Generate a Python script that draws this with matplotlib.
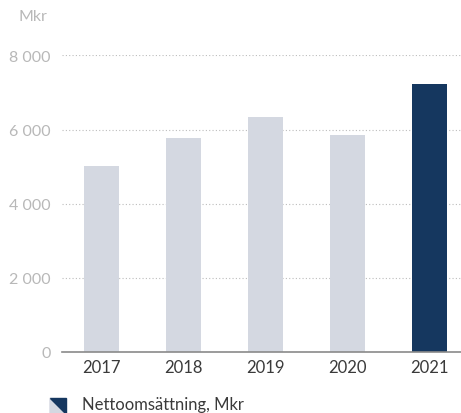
import matplotlib.pyplot as plt
from matplotlib.patches import Polygon
from matplotlib.ticker import FuncFormatter

years = ['2017', '2018', '2019', '2020', '2021']
sales = [5010, 5770, 6330, 5850, 7230]
bar_colors = ['#d4d8e1', '#d4d8e1', '#d4d8e1', '#d4d8e1', '#15375f']
yticks = [0, 2000, 4000, 6000, 8000]

plt.rcParams['font.family'] = ['Lato', 'DejaVu Sans']

fig = plt.figure(figsize=(4.61, 4.14), dpi=100)
ax = fig.add_axes([62 / 461, 61 / 414, 399 / 461, (353 - 56.4) / 414])

x = list(range(len(years)))
ax.bar(x, sales, width=0.43, color=bar_colors, zorder=2)

ax.set_xlim(-0.48, 4.38)
ax.set_ylim(0, 8000)
ax.set_xticks(x)
ax.set_xticklabels(years)
ax.set_yticks(yticks)
ax.yaxis.set_major_formatter(FuncFormatter(lambda v, p: f'{int(v):,}'.replace(',', ' ')))

ax.grid(axis='y', linestyle=(0, (1, 2)), color='#bdbdbd', linewidth=0.8, zorder=0)
for s in ['top', 'right', 'left']:
    ax.spines[s].set_visible(False)
ax.spines['bottom'].set_color('#8a8a8a')
ax.spines['bottom'].set_linewidth(1.2)
ax.spines['bottom'].set_zorder(3)

ax.tick_params(axis='x', length=0, pad=5, labelsize=12, labelcolor='#3a3a3a')
ax.tick_params(axis='y', length=0, pad=8, labelsize=11.5, labelcolor='#b8b8b8')

fig.text(18 / 461, 1 - 17 / 414, 'Mkr', fontsize=11.5, color='#b8b8b8', va='center', ha='left')

# legend marker: square split on the diagonal
x0, y0, s = 50 / 461, 1 - 415 / 414, 16
w, h = s / 461, s / 414
fig.patches.append(Polygon([(x0, y0), (x0, y0 + h), (x0 + w, y0)], closed=True,
                           transform=fig.transFigure, color='#d4d8e1'))
fig.patches.append(Polygon([(x0, y0 + h), (x0 + w, y0 + h), (x0 + w, y0)], closed=True,
                           transform=fig.transFigure, color='#15375f'))
fig.text(82 / 461, 1 - 405 / 414, 'Nettoomsättning, Mkr', fontsize=12, color='#3a3a3a',
         va='center', ha='left')

fig.savefig('out.png', dpi=100)
